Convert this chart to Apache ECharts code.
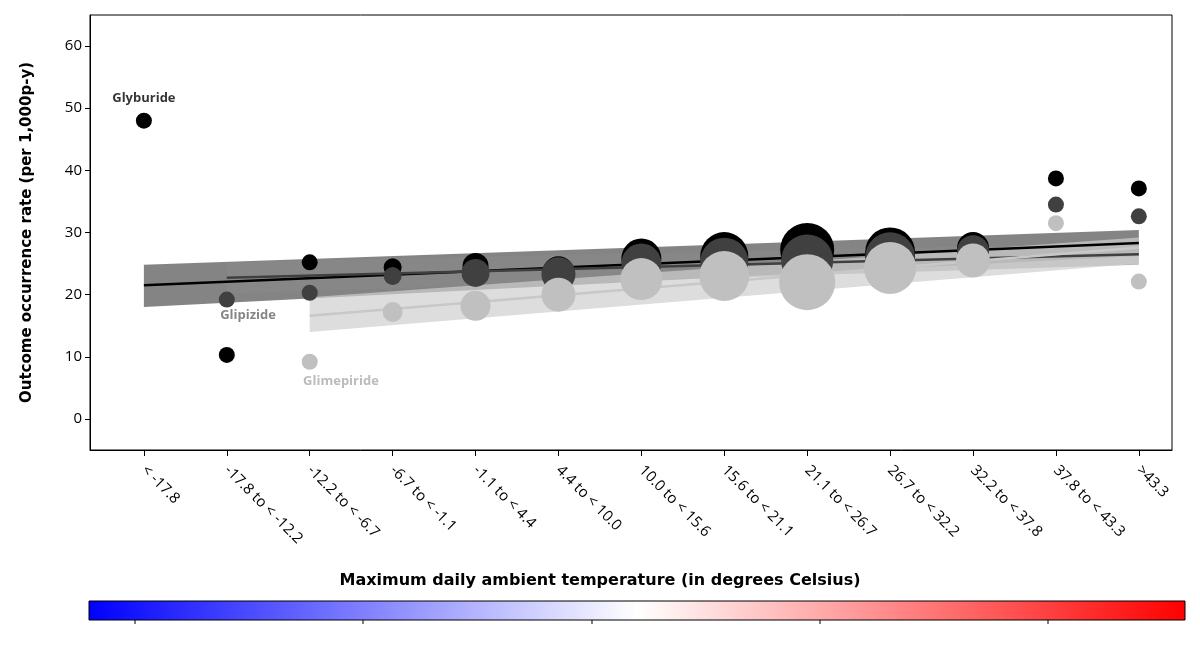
<!DOCTYPE html>
<html><head><meta charset="utf-8">
<script src="https://cdn.jsdelivr.net/npm/echarts@6/dist/echarts.min.js"></script>
<style>html,body{margin:0;background:#fff}#c{width:1200px;height:667px}</style>
</head><body><div id="c"></div>
<script>
    // categories of max daily temperature
    var categories = ['< -17.8', '-17.8 to < -12.2', '-12.2 to < -6.7', '-6.7 to < -1.1', '-1.1 to < 4.4',
        '4.4 to < 10.0', '10.0 to < 15.6', '15.6 to < 21.1', '21.1 to < 26.7', '26.7 to < 32.2',
        '32.2 to < 37.8', '37.8 to < 43.3', '>43.3'];
    var glyburide = [48, 10.3, 25.2, 24.4, 24.6, 23.6, 25.8, 26.2, 27.2, 26.8, 27.5, 38.7, 37.1];
    var glyburideSize = [16, 16, 16, 18, 26, 32, 40, 48, 54, 50, 32, 16, 16];
    var glipizide = [null, 19.2, 20.3, 23.0, 23.5, 23.3, 25.0, 25.3, 25.5, 26.0, 27.0, 34.5, 32.6];
    var glipizideSize = [0, 16, 16, 18, 28, 34, 40, 48, 52, 50, 32, 16, 16];
    var glimepiride = [null, null, 9.2, 17.2, 18.2, 20.0, 22.5, 23.0, 22.0, 24.3, 25.5, 31.5, 22.1];
    var glimepirideSize = [0, 0, 16, 20, 30, 34, 42, 50, 56, 52, 34, 16, 16];
    // regression fits: [startIndex, startValue, endValue, bandLowStart, bandHighStart, bandLowEnd, bandHighEnd]
    var fitGlyburide = [0, 21.5, 28.3, 18.0, 24.8, 26.2, 30.4];
    var fitGlipizide = [1, 22.7, 26.5, 20.2, 25.2, 24.8, 28.3];
    var fitGlimepiride = [2, 16.6, 27.6, 14.0, 19.6, 25.0, 29.2];

    var chart = echarts.init(document.getElementById('c'));
    var font = 'Open Sans';

    function pts(arr) {
        var out = [];
        arr.forEach(function(v, i) { if (v != null) out.push([i, v]); });
        return out;
    }
    function scatter(name, arr, sizes, color, z) {
        return {
            name: name, type: 'scatter', z: z, data: pts(arr),
            symbolSize: function(v) { return sizes[v[0]]; },
            itemStyle: { color: color, opacity: 1 }
        };
    }
    // confidence band drawn as a polygon through the axes' scales
    function band(fit, color, opacity) {
        return {
            type: 'custom', z: 1, silent: true,
            data: [[fit[0], fit[3], fit[4], 12, fit[5], fit[6]]],
            renderItem: function(params, api) {
                var p = [
                    api.coord([api.value(0), api.value(1)]),
                    api.coord([api.value(3), api.value(4)]),
                    api.coord([api.value(3), api.value(5)]),
                    api.coord([api.value(0), api.value(2)])
                ];
                return { type: 'polygon', shape: { points: p }, style: { fill: color, opacity: opacity } };
            }
        };
    }
    function fitLine(fit, color) {
        return { type: 'line', data: [[fit[0], fit[1]], [12, fit[2]]], symbol: 'none', z: 2,
            lineStyle: { color: color, width: 2.5 } };
    }
    function label(text, idx, val, color, pos) {
        return { type: 'scatter', data: [[idx, val]], symbolSize: 0, z: 10, silent: true,
            label: { show: true, formatter: text, position: pos, distance: 0, color: color,
                fontFamily: font, fontWeight: 'bold', fontSize: 13 } };
    }

    var series = [];
    series.push(band(fitGlyburide, '#6e6e6e', 0.85));
    series.push(band(fitGlipizide, '#8a8a8a', 0.6));
    series.push(band(fitGlimepiride, '#cfcfcf', 0.7));
    series.push(fitLine(fitGlyburide, '#000'), fitLine(fitGlipizide, '#404040'), fitLine(fitGlimepiride, '#c8c8c8'));
    series.push(scatter('Glyburide', glyburide, glyburideSize, '#000', 3));
    series.push(scatter('Glipizide', glipizide, glipizideSize, '#404040', 4));
    series.push(scatter('Glimepiride', glimepiride, glimepirideSize, '#c0c0c0', 5));
    series.push(label('Glyburide', 0, 51.6, '#000', 'inside'));
    series.push(label('Glipizide', 0.92, 16.6, '#666', 'right'));
    series.push(label('Glimepiride', 1.92, 6.1, '#aaa', 'right'));

    var ticks = categories.map(function(c, i) { return i; });

    chart.setOption({
        animation: false,
        grid: { left: 90, right: 28, top: 15, bottom: 217, show: true, borderColor: '#000', borderWidth: 1 },
        xAxis: {
            type: 'value', min: -0.65, max: 12.4,
            splitLine: { show: false },
            axisLine: { show: true, onZero: false, lineStyle: { color: '#000' } },
            axisTick: { customValues: ticks, length: 6, lineStyle: { color: '#000' } },
            axisLabel: { customValues: ticks, rotate: -45, margin: 18, color: '#000', fontFamily: font, fontSize: 15,
                formatter: function(v) { return categories[Math.round(v)]; } }
        },
        yAxis: {
            type: 'value', min: -5, max: 65, interval: 10,
            name: 'Outcome occurrence rate (per 1,000p-y)', nameLocation: 'middle', nameGap: 55,
            nameTextStyle: { fontFamily: 'DejaVu Sans', fontWeight: 'bold', fontSize: 15, color: '#000' },
            axisLabel: { customValues: [0, 10, 20, 30, 40, 50, 60], color: '#000', fontFamily: font, fontSize: 15 },
            axisTick: { customValues: [0, 10, 20, 30, 40, 50, 60], lineStyle: { color: '#000' } },
            axisLine: { show: true, onZero: false, lineStyle: { color: '#000' } },
            splitLine: { show: false }
        },
        graphic: [
            { type: 'text', left: 'center', top: 573, style: { text: 'Maximum daily ambient temperature (in degrees Celsius)',
                font: 'bold 16px "DejaVu Sans"', fill: '#000' } },
            { type: 'rect', shape: { x: 89, y: 601, width: 1096, height: 19 },
                style: { stroke: '#000', lineWidth: 1, fill: new echarts.graphic.LinearGradient(0, 0, 1, 0, [
                    { offset: 0, color: '#0000ff' }, { offset: 0.5, color: '#ffffff' }, { offset: 1, color: '#ff0000' }]) } }
        ].concat([135, 363, 592, 820, 1048].map(function(x) {
            return { type: 'line', shape: { x1: x, y1: 620, x2: x, y2: 624 }, style: { stroke: '#000' } };
        })),
        series: series
    });
</script>
</body></html>
